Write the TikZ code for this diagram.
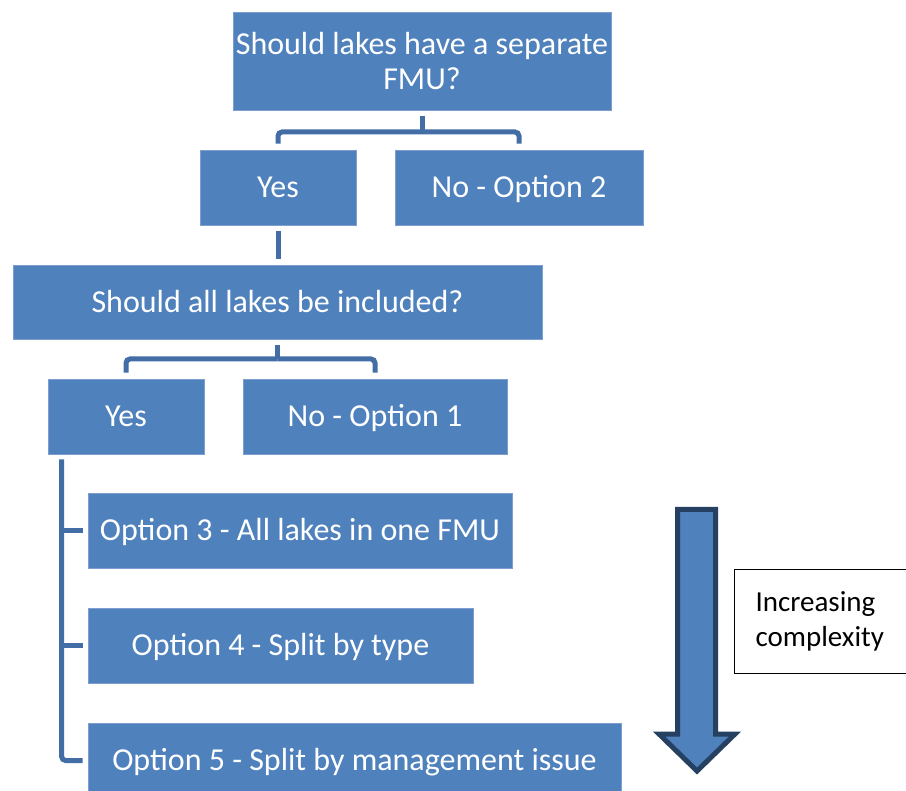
\documentclass[tikz,border=0pt]{standalone}
\usepackage{fontspec}
\setmainfont{Carlito}
\definecolor{boxblue}{RGB}{79,129,189}
\definecolor{connblue}{RGB}{67,110,165}
\definecolor{arrowedge}{RGB}{37,64,97}
\definecolor{boxedge}{RGB}{125,158,206}
\tikzset{
 box/.style={rectangle, fill=boxblue, draw=boxedge, line width=0.8pt, text=white, font=\fontsize{32}{35}\selectfont, inner sep=0pt},
 oneline/.style={text height=20.6pt, text depth=0pt},
 conn/.style={draw=connblue, line width=5pt, rounded corners=4pt},
}
\begin{document}
\begin{tikzpicture}[x=1pt,y=-1pt]
\useasboundingbox (0,0) rectangle (906,791);
\clip (0,0) rectangle (906,791);
\fill[white] (0,0) rectangle (906,791);

\node[box, minimum width=378pt, minimum height=98pt, align=center] (q1) at (422,61) {Should lakes have a separate\\FMU?};
\node[box, oneline, minimum width=156pt, minimum height=75pt] (yes1) at (278,187.5) {Yes};
\node[box, oneline, minimum width=248pt, minimum height=75pt] (no2) at (519,187.5) {No - Option 2};
\node[box, oneline, minimum width=529pt, minimum height=74pt] (q2) at (277.5,302) {Should all lakes be included?};
\node[box, oneline, minimum width=156pt, minimum height=75pt] (yes2) at (126,416.5) {Yes};
\node[box, oneline, minimum width=264pt, minimum height=75pt] (no1) at (375,416.5) {No - Option 1};
\node[box, oneline, minimum width=424pt, minimum height=75pt] (opt3) at (300,530.5) {Option 3 - All lakes in one FMU};
\node[box, oneline, minimum width=385pt, minimum height=75pt] (opt4) at (280.5,645.5) {Option 4 - Split by type};
\node[box, oneline, minimum width=533pt, minimum height=75pt] (opt5) at (354.5,760.5) {Option 5 - Split by management issue};

\coordinate (j1) at (422,132);
\draw[conn] ([yshift=-6pt]q1.south) -- (j1);
\draw[conn] (j1) -| ([yshift=6pt]yes1.north);
\draw[conn] (j1) -| ([yshift=6pt]no2.north);
\draw[conn] ([yshift=-6pt]yes1.south) -- ([yshift=6pt]yes1.south |- q2.north);

\coordinate (j2) at (277.5,359);
\draw[conn] ([yshift=-6pt]q2.south) -- (j2);
\draw[conn] (j2) -| ([yshift=6pt]yes2.north);
\draw[conn] (j2) -| ([yshift=6pt]no1.north);

\coordinate (sp) at ([xshift=14pt,yshift=-5pt]yes2.south west);
\draw[conn] (sp) |- ([xshift=-5pt]opt5.west);
\draw[conn] (sp |- opt3.west) -- ([xshift=-5pt]opt3.west);
\draw[conn] (sp |- opt4.west) -- ([xshift=-5pt]opt4.west);

\draw[fill=boxblue, draw=arrowedge, line width=5pt, line join=miter] (677.5,509.5) -- (715.5,509.5) -- (715.5,734) -- (735,734) -- (697,771) -- (659,734) -- (677.5,734) -- cycle;

\node[draw=black, line width=1.2pt, fill=white, minimum height=104pt, text width=138pt, align=left, inner xsep=21pt, inner ysep=0pt, font=\fontsize{29}{35}\selectfont, anchor=north west] (inc) at (734,569) {Increasing\\complexity};
\end{tikzpicture}
\end{document}
